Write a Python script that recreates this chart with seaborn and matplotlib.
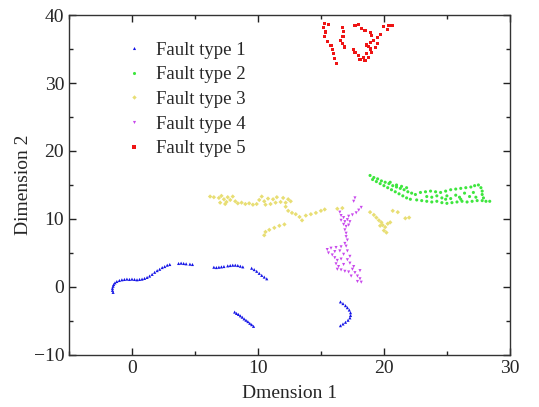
import matplotlib
matplotlib.use("Agg")
import matplotlib.pyplot as plt
import seaborn as sns
import pandas as pd
from matplotlib.ticker import MultipleLocator

# ---------------- data ----------------
type1_x = [-1.5, -1.55, -1.55, -1.5, -1.45, -1.35, -1.2, -1.0, -0.8, -0.6, -0.4, -0.2, 0.0, 0.2, 0.4, 0.6,
           0.8, 1.0, 1.2, 1.4, 1.6, 1.8, 2.0, 2.2, 2.4, 2.6, 2.8, 3.0,
           3.7, 3.9, 4.1, 4.3, 4.6, 4.8,
           6.5, 6.7, 6.9, 7.1, 7.3, 7.6, 7.8, 8.0, 8.2, 8.4, 8.6, 8.8,
           9.5, 9.7, 9.9, 10.1, 10.3, 10.5, 10.7,
           8.15, 8.3, 8.45, 8.6, 8.75, 8.9, 9.05, 9.2, 9.35, 9.5, 9.65,
           16.55, 16.75, 16.95, 17.1, 17.25, 17.35, 17.35, 17.3, 17.15, 16.95, 16.75, 16.55]
type1_y = [-0.8, -0.5, -0.2, 0.1, 0.35, 0.6, 0.8, 0.95, 1.05, 1.1, 1.15, 1.1, 1.15, 1.1, 1.05, 1.1,
           1.15, 1.25, 1.4, 1.6, 1.85, 2.15, 2.4, 2.6, 2.85, 3.0, 3.2, 3.3,
           3.45, 3.5, 3.45, 3.4, 3.35, 3.3,
           2.9, 2.85, 2.9, 2.95, 3.0, 3.1, 3.15, 3.2, 3.2, 3.15, 3.05, 2.95,
           2.75, 2.55, 2.3, 2.0, 1.7, 1.45, 1.2,
           -3.7, -3.9, -4.05, -4.25, -4.45, -4.7, -4.9, -5.1, -5.35, -5.55, -5.8,
           -2.2, -2.45, -2.75, -3.05, -3.4, -3.8, -4.2, -4.55, -4.9, -5.2, -5.45, -5.7]

type2_x = [18.9, 19.2, 19.5, 19.8, 20.1, 20.4, 20.7, 21.0, 21.3, 21.6, 21.9, 22.2, 22.5,
           19.1, 19.4, 19.7, 20.0, 20.3, 20.6, 20.9, 21.2, 21.5, 21.8, 22.1,
           20.5, 21.0, 21.4, 21.8,
           22.9, 23.3, 23.7, 24.1, 24.5, 24.9, 25.3, 25.7, 26.1, 26.5, 26.9, 27.2, 27.5, 27.7, 27.8, 27.8, 27.9,
           22.6, 23.0, 23.4, 23.8, 24.2, 24.6, 25.0, 25.4, 25.8, 26.2, 26.6, 27.0, 27.4, 27.8, 28.1, 28.4,
           23.4, 23.8, 24.2, 24.6, 25.0, 25.3, 25.7, 26.0, 26.4, 26.8, 27.1, 27.3, 24.9, 26.1]
type2_y = [16.4, 16.1, 15.9, 15.6, 15.4, 15.2, 14.9, 14.7, 14.5, 14.3, 14.0, 13.8, 13.6,
           15.8, 15.5, 15.2, 14.9, 14.6, 14.3, 14.0, 13.7, 13.4, 13.1, 12.9,
           15.4, 15.0, 14.8, 14.6,
           13.9, 14.0, 14.1, 14.0, 13.9, 14.1, 14.3, 14.4, 14.5, 14.6, 14.7, 14.9, 15.0, 14.6, 14.1, 13.6, 13.1,
           12.8, 12.7, 12.6, 12.5, 12.6, 12.4, 12.3, 12.4, 12.5, 12.6, 12.5, 12.6, 12.7, 12.7, 12.6, 12.6,
           13.3, 13.2, 13.4, 13.1, 13.4, 13.0, 13.5, 13.2, 13.8, 13.3, 13.9, 13.2, 12.9, 12.9]

type3_x = [6.2, 6.5, 6.9, 7.1, 7.3, 7.5, 7.6, 7.8, 8.0, 8.2, 8.4, 8.7, 9.0, 9.3, 9.6, 9.9, 10.1, 10.3,
           10.5, 10.8, 11.0, 11.2, 11.5, 11.8, 12.0, 12.2, 12.4, 12.6, 7.0, 7.4, 10.6, 11.4,
           12.2, 12.4, 12.7, 13.0, 13.3, 13.5, 13.8, 14.2, 14.6, 15.0, 15.3,
           10.5, 10.6, 10.9, 11.3, 11.7, 12.1,
           16.3, 16.7,
           18.9, 19.2, 19.4, 19.6, 19.8, 19.9, 20.1, 20.0, 20.2, 20.3, 19.7, 20.5, 20.7, 21.1, 21.7, 22.0]
type3_y = [13.3, 13.2, 13.1, 13.4, 12.9, 12.5, 13.2, 12.8, 13.3, 12.6, 12.3, 12.4, 12.2, 12.3, 12.1, 12.2, 12.8, 13.3,
           12.6, 13.0, 12.2, 12.9, 13.2, 12.5, 13.1, 12.4, 12.9, 12.6, 12.4, 12.2, 12.1, 12.4,
           11.8, 11.2, 10.9, 10.7, 10.3, 9.8, 10.5, 10.7, 10.9, 11.2, 11.4,
           7.6, 8.1, 8.4, 8.7, 9.0, 9.2,
           11.5, 11.6,
           11.0, 10.6, 10.2, 9.8, 9.5, 9.1, 8.8, 8.3, 8.0, 9.3, 9.0, 9.5, 11.2, 11.0, 10.1, 10.2]

type4_x = [17.7, 17.6, 18.2, 18.0, 17.8, 17.5, 17.2, 16.5, 16.6, 16.8, 16.6, 16.9, 17.1, 17.3, 16.8, 17.0,
           17.2, 16.9, 17.0, 17.0, 17.1, 16.9, 17.0,
           16.6, 16.2, 15.8, 15.5, 15.6, 15.9, 16.1, 16.3, 16.2, 16.4, 16.3, 16.6, 16.9, 17.2, 17.5, 17.7,
           17.9, 18.1, 17.9, 18.2, 18.1, 17.6, 17.3, 17.1, 17.3, 16.8, 17.1, 16.5, 16.1, 16.6, 16.8, 17.4]
type4_y = [13.1, 12.6, 11.7, 11.3, 10.9, 10.6, 10.4, 11.0, 10.5, 10.2, 9.8, 9.6, 9.9, 9.6, 9.2, 8.9,
           9.1, 8.4, 7.9, 7.4, 6.9, 6.4, 6.0,
           5.9, 5.8, 5.7, 5.5, 5.0, 4.7, 4.3, 3.9, 3.4, 3.0, 2.6, 2.5, 2.3, 2.2, 2.6, 2.1,
           1.6, 1.2, 0.8, 0.7, 2.4, 3.0, 3.5, 4.0, 4.5, 4.8, 5.3, 5.3, 5.2, 4.1, 3.3, 1.6]

type5_x = [15.3, 15.2, 15.35, 15.3, 15.5, 15.8, 15.9, 16.0, 16.1, 16.25, 15.6,
           16.7, 16.8, 16.75, 16.55, 16.7, 16.9,
           17.7, 18.0, 18.25, 18.5, 18.9, 19.0,
           20.0, 20.4, 20.7, 20.3, 19.7, 19.5, 19.2, 18.9, 18.8, 18.9, 18.6, 18.4, 18.0, 17.7, 17.6,
           18.1, 18.5, 18.8, 19.0, 19.3, 18.6, 19.5]
type5_y = [38.8, 38.2, 37.5, 36.9, 36.1, 35.5, 34.9, 34.3, 33.6, 32.9, 38.6,
           38.2, 37.6, 36.9, 36.3, 35.8, 35.3,
           38.5, 38.6, 38.0, 37.7, 37.4, 37.0,
           38.3, 38.5, 38.4, 37.9, 37.2, 36.7, 36.3, 35.9, 35.4, 35.0, 34.3, 33.7, 34.0, 34.5, 34.9,
           33.4, 33.3, 33.8, 34.5, 35.2, 35.6, 35.8]

labels = ["Fault type 1", "Fault type 2", "Fault type 3", "Fault type 4", "Fault type 5"]
colors = ["#1414e6", "#3ee63e", "#e8de74", "#c848ec", "#ee1515"]
markers = ["^", "o", "D", "v", "s"]

# ---------------- build table ----------------
xs = [type1_x, type2_x, type3_x, type4_x, type5_x]
ys = [type1_y, type2_y, type3_y, type4_y, type5_y]
frames = []
for lab, x, y in zip(labels, xs, ys):
    frames.append(pd.DataFrame({"x": x, "y": y, "type": lab}))
df = pd.concat(frames, ignore_index=True)

# ---------------- plot ----------------
sns.set_style("white")
plt.rcParams["font.family"] = ["Liberation Serif", "DejaVu Serif"]
plt.rcParams["mathtext.fontset"] = "stix"

fig = plt.figure(figsize=(5.39, 4.07), dpi=100)
ax = fig.add_axes([0.128, 0.128, 0.818, 0.835])

sns.scatterplot(data=df, x="x", y="y", hue="type", style="type",
                palette=dict(zip(labels, colors)),
                markers=dict(zip(labels, markers)),
                hue_order=labels, style_order=labels,
                s=5, linewidth=0, ax=ax)

ax.set_xlim(-5, 30)
ax.set_ylim(-10, 40)
ax.xaxis.set_major_locator(MultipleLocator(10))
ax.xaxis.set_minor_locator(MultipleLocator(5))
ax.yaxis.set_major_locator(MultipleLocator(10))
ax.yaxis.set_minor_locator(MultipleLocator(5))
ax.tick_params(which="both", direction="in", top=True, right=True,
               bottom=True, left=True, labelsize=14, width=1.0, color="#222222")
ax.tick_params(which="major", length=5)
ax.tick_params(which="minor", length=3)
for sp in ax.spines.values():
    sp.set_color("#333333")
    sp.set_linewidth(1.0)

ax.set_xlabel("Dmension 1", fontsize=14, labelpad=6)
ax.set_ylabel("Dimension 2", fontsize=14, labelpad=1)

handles, labs = ax.get_legend_handles_labels()
leg = ax.legend(handles, labs, loc="upper left", bbox_to_anchor=(0.10, 0.955),
                frameon=False, fontsize=13.5, markerscale=1.0,
                handlelength=1.0, handletextpad=0.7, labelspacing=0.4,
                borderaxespad=0.2)

fig.savefig("out.png", dpi=100)
